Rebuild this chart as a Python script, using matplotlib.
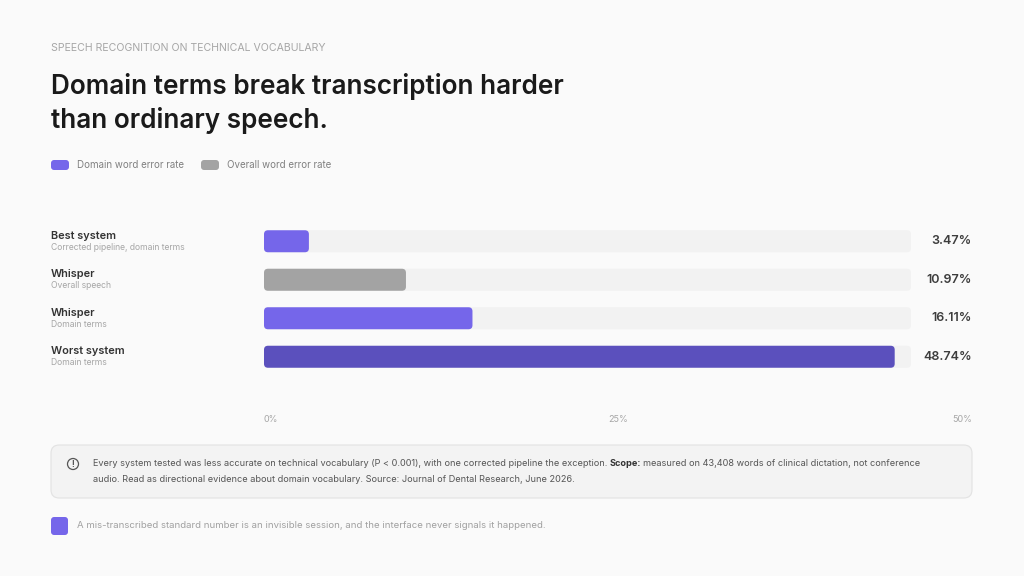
import matplotlib
matplotlib.use("Agg")
import matplotlib.pyplot as plt
from matplotlib.patches import FancyBboxPatch, Ellipse
from matplotlib.transforms import blended_transform_factory

plt.rcParams["font.family"] = ["Inter", "DejaVu Sans"]

# data
labels = ["Best system", "Whisper", "Whisper", "Worst system"]
sublabels = ["Corrected pipeline, domain terms", "Overall speech", "Domain terms", "Domain terms"]
values = [3.47, 10.97, 16.11, 48.74]
kinds = ["domain", "overall", "domain", "worst"]
ticks = [0, 25, 50]
XMAX = 50

BG = "#fafafa"
TRACK = "#f2f2f2"
COLORS = {"domain": "#7566ea", "overall": "#a3a3a3", "worst": "#5b50bd"}
INK = "#1a1a1a"
W, H = 1024, 576

fig = plt.figure(figsize=(W / 100, H / 100), dpi=100, facecolor=BG)

def fx(px):
    return px / W

def fy(py):
    return 1 - py / H

# header
fig.text(fx(51), fy(48), "SPEECH RECOGNITION ON TECHNICAL VOCABULARY", fontsize=7.6,
         color="#a6a6a6", va="center", ha="left")
fig.text(fx(51), fy(86), "Domain terms break transcription harder", fontsize=18.8,
         fontweight="semibold", color=INK, va="center", ha="left")
fig.text(fx(51), fy(120), "than ordinary speech.", fontsize=18.8,
         fontweight="semibold", color=INK, va="center", ha="left")

# legend
for x0, col, txt in [(51, COLORS["domain"], "Domain word error rate"),
                     (201, COLORS["overall"], "Overall word error rate")]:
    fig.patches.append(FancyBboxPatch((fx(x0), fy(170)), fx(18), 10 / H,
                                      boxstyle="round,pad=0,rounding_size=0.003",
                                      mutation_aspect=W / H, transform=fig.transFigure,
                                      fc=col, ec="none"))
    fig.text(fx(x0 + 26), fy(165), txt, fontsize=7.0, color="#808080", va="center", ha="left")

# bars
top, row = 222, 38.5
n = len(values)
ax = fig.add_axes([fx(264), fy(top + n * row), fx(911 - 264), n * row / H])
ax.set_xlim(0, XMAX)
ax.set_ylim(n - 0.5, -0.5)
ax.axis("off")
ax.patch.set_alpha(0)

xpp = XMAX / (911 - 264)
ypp = 1 / row
bh = 22 * ypp
r = 4 * xpp
asp = ypp / xpp
for i, (v, k) in enumerate(zip(values, kinds)):
    ax.add_patch(FancyBboxPatch((0, i - bh / 2), XMAX, bh,
                                boxstyle=f"round,pad=0,rounding_size={r}",
                                mutation_aspect=asp, fc=TRACK, ec="none", zorder=1))
    ax.add_patch(FancyBboxPatch((0, i - bh / 2), v, bh,
                                boxstyle=f"round,pad=0,rounding_size={r}",
                                mutation_aspect=asp, fc=COLORS[k], ec="none", zorder=2))

tr = blended_transform_factory(fig.transFigure, ax.transData)
for i, (lab, sub, v) in enumerate(zip(labels, sublabels, values)):
    ax.text(fx(51), i - 0.14, lab, transform=tr, fontsize=7.9, fontweight="semibold",
            color="#333333", va="center", ha="left")
    ax.text(fx(51), i + 0.16, sub, transform=tr, fontsize=6.2, color="#a6a6a6",
            va="center", ha="left")
    ax.text(fx(972), i, f"{v:.2f}%", transform=tr, fontsize=9, fontweight="semibold",
            color="#3d3d3d", va="center", ha="right")

# tick labels
axt = fig.add_axes([fx(264), fy(425), fx(972 - 264), 12 / H])
axt.set_xlim(0, XMAX)
axt.axis("off")
for j, t in enumerate(ticks):
    ha = "left" if j == 0 else ("right" if j == len(ticks) - 1 else "center")
    axt.text(t, 0.5, f"{t}%", fontsize=6.5, color="#a6a6a6", ha=ha, va="center")

# note box
fig.patches.append(FancyBboxPatch((fx(51), fy(498)), fx(972 - 51), 53 / H,
                                  boxstyle="round,pad=0,rounding_size=0.008",
                                  mutation_aspect=W / H, transform=fig.transFigure,
                                  fc="#f3f3f3", ec="#e2e2e2", lw=0.8))
fig.patches.append(Ellipse((fx(73), fy(464)), 11 / W, 11 / H, transform=fig.transFigure,
                           fc="none", ec="#555555", lw=0.9))
fig.text(fx(73), fy(464.5), "!", fontsize=6, fontweight="bold", color="#555555",
         ha="center", va="center")
NOTE_FS = 6.6
t1 = fig.text(fx(93), fy(464), "Every system tested was less accurate on technical vocabulary "
              "(P < 0.001), with one corrected pipeline the exception. ",
              fontsize=NOTE_FS, color="#555555", va="center", ha="left")
t2 = fig.text(0, 0, "Scope:", fontsize=NOTE_FS, fontweight="bold", color="#333333",
              va="center", ha="left")
fig.canvas.draw()
bb = t1.get_window_extent()
t2.set_position((bb.x1 / W, fy(464)))
fig.canvas.draw()
bb2 = t2.get_window_extent()
fig.text(bb2.x1 / W + 2 / W, fy(464), "measured on 43,408 words of clinical dictation, not conference",
         fontsize=NOTE_FS, color="#555555", va="center", ha="left")
fig.text(fx(93), fy(479), "audio. Read as directional evidence about domain vocabulary. "
         "Source: Journal of Dental Research, June 2026.",
         fontsize=NOTE_FS, color="#555555", va="center", ha="left")

# footer
fig.patches.append(FancyBboxPatch((fx(51), fy(535)), fx(17), 18 / H,
                                  boxstyle="round,pad=0,rounding_size=0.003",
                                  mutation_aspect=W / H, transform=fig.transFigure,
                                  fc=COLORS["domain"], ec="none"))
fig.text(fx(77), fy(526), "A mis-transcribed standard number is an invisible session, "
         "and the interface never signals it happened.",
         fontsize=6.9, color="#a0a0a0", va="center", ha="left")

fig.savefig("out.png", dpi=100, facecolor=BG)
